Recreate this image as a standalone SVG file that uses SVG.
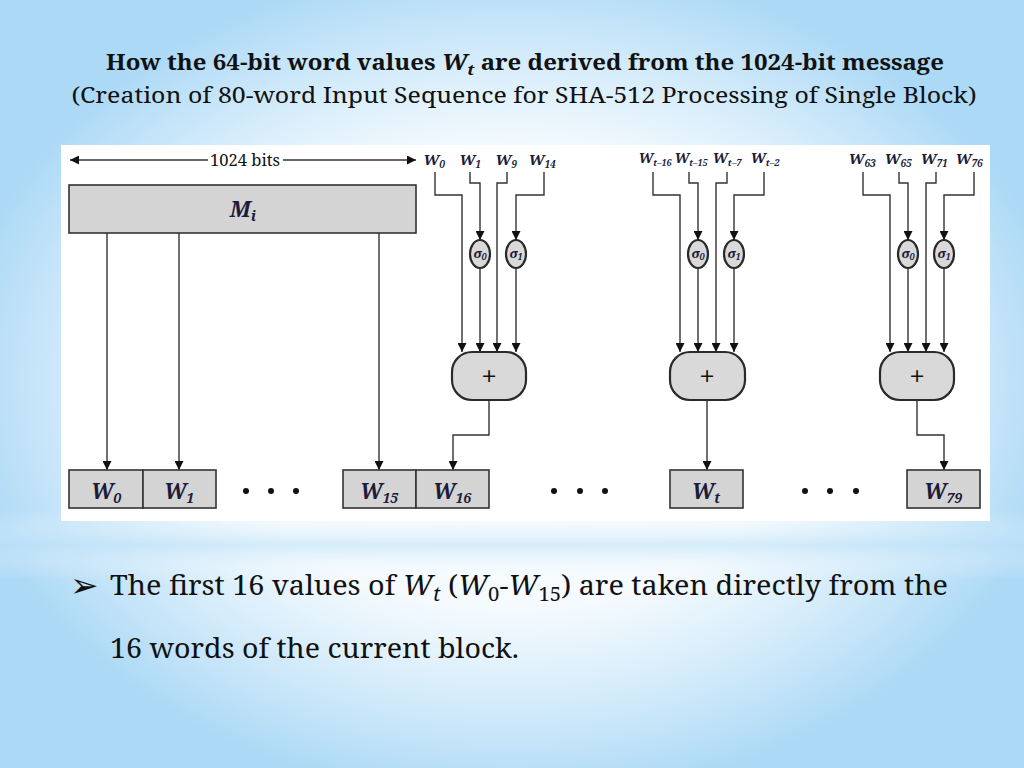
<svg xmlns="http://www.w3.org/2000/svg" width="1024" height="768" viewBox="0 0 1024 768">
<defs>
<radialGradient id="glow" cx="512" cy="380" r="560" gradientUnits="userSpaceOnUse" gradientTransform="translate(512 380) scale(1 0.75) translate(-512 -380)">
<stop offset="0" stop-color="#ffffff"/>
<stop offset="0.55" stop-color="#f4fafe"/>
<stop offset="1" stop-color="#ffffff" stop-opacity="0"/>
</radialGradient>
<linearGradient id="band" x1="0" y1="0" x2="0" y2="1">
<stop offset="0" stop-color="#ffffff" stop-opacity="0"/>
<stop offset="0.5" stop-color="#bfe2f8" stop-opacity="0.6"/>
<stop offset="1" stop-color="#ffffff" stop-opacity="0"/>
</linearGradient>
<marker id="ah" viewBox="0 0 10 10" refX="10" refY="5" markerUnits="userSpaceOnUse" markerWidth="12" markerHeight="9" orient="auto-start-reverse">
<path d="M0,0 L10,5 L0,10 z" fill="#111"/>
</marker>
<style>
text{font-family:'Noto Serif',serif;}
.ttl{fill:#111;}
.lab{font-weight:bold;font-style:italic;fill:#1c1c3a;}
.box{fill:#d4d4d4;stroke:#333;stroke-width:1.6;}
.op{fill:#d9d9d9;stroke:#2a2a2a;stroke-width:2.2;}
.arr{fill:none;stroke:#333;stroke-width:1.4;marker-end:url(#ah);}
.dot{fill:#111;}
</style>
</defs>
<rect x="0" y="0" width="1024" height="768" fill="#acd9f6"/>
<rect x="0" y="0" width="1024" height="768" fill="url(#glow)"/>
<rect x="0" y="510" width="1024" height="70" fill="url(#band)"/>

<g id="title">
<text class="ttl" x="525" y="70" font-size="21" font-weight="bold" text-anchor="middle" textLength="838" lengthAdjust="spacingAndGlyphs">How the 64-bit word values <tspan font-style="italic">W</tspan><tspan font-style="italic" font-size="15" dy="5">t</tspan><tspan dy="-5"> are derived from the 1024-bit message</tspan></text>
<text class="ttl" x="524" y="103" font-size="21" text-anchor="middle" textLength="905" lengthAdjust="spacingAndGlyphs">(Creation of 80-word Input Sequence for SHA-512 Processing of Single Block)</text>
</g>

<rect id="panel" x="61" y="145" width="929" height="376" fill="#ffffff"/>

<g id="bits-label">
<text class="ttl" x="245" y="166" font-size="16" text-anchor="middle" fill="#222" textLength="70" lengthAdjust="spacingAndGlyphs">1024 bits</text>
</g>

<g id="Mi">
<rect class="box" x="69" y="185" width="347" height="48"/>
<text class="lab" x="243" y="217" font-size="22" text-anchor="middle">M<tspan font-size="15" dy="4">i</tspan></text>
</g>

<g id="connectors">
<line class="arr" x1="208" y1="160" x2="70" y2="160"/>
<line class="arr" x1="283" y1="160" x2="416" y2="160"/>
<line class="arr" x1="107" y1="233" x2="107" y2="470"/>
<line class="arr" x1="179" y1="233" x2="179" y2="470"/>
<line class="arr" x1="379" y1="233" x2="379" y2="470"/>
<path class="arr" d="M435,172 V195 H462 V352"/>
<path class="arr" d="M470,172 V183 H480 V240"/>
<path class="arr" d="M507,172 V183 H497 V352"/>
<path class="arr" d="M544,172 V195 H516 V240"/>
<path class="arr" d="M480,268 V352"/>
<path class="arr" d="M516,268 V352"/>
<path class="arr" d="M489,400 V435 H453 V470"/>
<path class="arr" d="M653,172 V195 H680 V352"/>
<path class="arr" d="M689,172 V183 H698 V240"/>
<path class="arr" d="M727,172 V183 H716 V352"/>
<path class="arr" d="M764,172 V195 H734 V240"/>
<path class="arr" d="M698,268 V352"/>
<path class="arr" d="M734,268 V352"/>
<path class="arr" d="M707,400 V470"/>
<path class="arr" d="M863,172 V195 H890 V352"/>
<path class="arr" d="M899,172 V183 H908 V240"/>
<path class="arr" d="M936,172 V183 H926 V352"/>
<path class="arr" d="M974,172 V195 H944 V240"/>
<path class="arr" d="M908,268 V352"/>
<path class="arr" d="M944,268 V352"/>
<path class="arr" d="M917,400 V435 H944 V470"/>
</g>

<g id="inputs1">
<text class="lab" x="434" y="165" font-size="15" text-anchor="middle">W<tspan font-size="10" dy="3">0</tspan></text>
<text class="lab" x="470" y="165" font-size="15" text-anchor="middle">W<tspan font-size="10" dy="3">1</tspan></text>
<text class="lab" x="506" y="165" font-size="15" text-anchor="middle">W<tspan font-size="10" dy="3">9</tspan></text>
<text class="lab" x="542" y="165" font-size="15" text-anchor="middle">W<tspan font-size="10" dy="3">14</tspan></text>
</g>
<g id="inputs2">
<text class="lab" x="655" y="163" font-size="14" text-anchor="middle" textLength="33" lengthAdjust="spacingAndGlyphs">W<tspan font-size="9" dy="3">t–16</tspan></text>
<text class="lab" x="691" y="163" font-size="14" text-anchor="middle" textLength="33" lengthAdjust="spacingAndGlyphs">W<tspan font-size="9" dy="3">t–15</tspan></text>
<text class="lab" x="727" y="163" font-size="14" text-anchor="middle" textLength="29" lengthAdjust="spacingAndGlyphs">W<tspan font-size="9" dy="3">t–7</tspan></text>
<text class="lab" x="765" y="163" font-size="14" text-anchor="middle" textLength="29" lengthAdjust="spacingAndGlyphs">W<tspan font-size="9" dy="3">t–2</tspan></text>
</g>
<g id="inputs3">
<text class="lab" x="862" y="164" font-size="15" text-anchor="middle">W<tspan font-size="10" dy="3">63</tspan></text>
<text class="lab" x="898" y="164" font-size="15" text-anchor="middle">W<tspan font-size="10" dy="3">65</tspan></text>
<text class="lab" x="934" y="164" font-size="15" text-anchor="middle">W<tspan font-size="10" dy="3">71</tspan></text>
<text class="lab" x="969" y="164" font-size="15" text-anchor="middle">W<tspan font-size="10" dy="3">76</tspan></text>
</g>

<g id="sigma0-1"><ellipse class="op" cx="480" cy="254" rx="10" ry="14"/><text class="lab" x="480" y="258" font-size="13" font-weight="normal" text-anchor="middle">σ<tspan font-size="9" dy="2">0</tspan></text></g>
<g id="sigma1-1"><ellipse class="op" cx="516" cy="254" rx="10" ry="14"/><text class="lab" x="516" y="258" font-size="13" font-weight="normal" text-anchor="middle">σ<tspan font-size="9" dy="2">1</tspan></text></g>
<g id="sigma0-2"><ellipse class="op" cx="698" cy="254" rx="10" ry="14"/><text class="lab" x="698" y="258" font-size="13" font-weight="normal" text-anchor="middle">σ<tspan font-size="9" dy="2">0</tspan></text></g>
<g id="sigma1-2"><ellipse class="op" cx="734" cy="254" rx="10" ry="14"/><text class="lab" x="734" y="258" font-size="13" font-weight="normal" text-anchor="middle">σ<tspan font-size="9" dy="2">1</tspan></text></g>
<g id="sigma0-3"><ellipse class="op" cx="908" cy="254" rx="10" ry="14"/><text class="lab" x="908" y="258" font-size="13" font-weight="normal" text-anchor="middle">σ<tspan font-size="9" dy="2">0</tspan></text></g>
<g id="sigma1-3"><ellipse class="op" cx="944" cy="254" rx="10" ry="14"/><text class="lab" x="944" y="258" font-size="13" font-weight="normal" text-anchor="middle">σ<tspan font-size="9" dy="2">1</tspan></text></g>

<g id="add1"><rect class="op" x="452" y="352" width="74" height="48" rx="20"/><text class="ttl" x="489" y="386" font-size="28" text-anchor="middle" fill="#222">+</text></g>
<g id="add2"><rect class="op" x="670" y="352" width="75" height="48" rx="20"/><text class="ttl" x="707" y="386" font-size="28" text-anchor="middle" fill="#222">+</text></g>
<g id="add3"><rect class="op" x="880" y="352" width="74" height="48" rx="20"/><text class="ttl" x="917" y="386" font-size="28" text-anchor="middle" fill="#222">+</text></g>

<g id="W0"><rect class="box" x="69" y="470" width="74" height="38"/><text class="lab" x="106" y="499" font-size="21" text-anchor="middle">W<tspan font-size="14" dy="4">0</tspan></text></g>
<g id="W1"><rect class="box" x="143" y="470" width="73" height="38"/><text class="lab" x="179" y="499" font-size="21" text-anchor="middle">W<tspan font-size="14" dy="4">1</tspan></text></g>
<g id="W15"><rect class="box" x="343" y="470" width="73" height="38"/><text class="lab" x="379" y="499" font-size="21" text-anchor="middle">W<tspan font-size="14" dy="4">15</tspan></text></g>
<g id="W16"><rect class="box" x="416" y="470" width="73" height="38"/><text class="lab" x="452" y="499" font-size="21" text-anchor="middle">W<tspan font-size="14" dy="4">16</tspan></text></g>
<g id="Wt"><rect class="box" x="670" y="470" width="73" height="38"/><text class="lab" x="706" y="499" font-size="21" text-anchor="middle">W<tspan font-size="14" dy="4">t</tspan></text></g>
<g id="W79"><rect class="box" x="907" y="470" width="73" height="38"/><text class="lab" x="943" y="499" font-size="21" text-anchor="middle">W<tspan font-size="14" dy="4">79</tspan></text></g>

<g id="ellipses">
<circle class="dot" cx="246" cy="491" r="3"/><circle class="dot" cx="271" cy="491" r="3"/><circle class="dot" cx="296" cy="491" r="3"/>
<circle class="dot" cx="554" cy="491" r="3"/><circle class="dot" cx="580" cy="491" r="3"/><circle class="dot" cx="605" cy="491" r="3"/>
<circle class="dot" cx="805" cy="491" r="3"/><circle class="dot" cx="830" cy="491" r="3"/><circle class="dot" cx="856" cy="491" r="3"/>
</g>

<g id="bullet">
<text x="70" y="597" font-size="34" fill="#111" style="font-family:'DejaVu Sans',sans-serif">➢</text>
<text class="ttl" x="110" y="595" font-size="27" textLength="838" lengthAdjust="spacingAndGlyphs">The first 16 values of <tspan font-style="italic">W</tspan><tspan font-style="italic" font-size="19" dy="6">t</tspan><tspan dy="-6"> (</tspan><tspan font-style="italic">W</tspan><tspan font-size="19" dy="6">0</tspan><tspan dy="-6">-</tspan><tspan font-style="italic">W</tspan><tspan font-size="19" dy="6">15</tspan><tspan dy="-6">) are taken directly from the</tspan></text>
<text class="ttl" x="110" y="658" font-size="27" textLength="409" lengthAdjust="spacingAndGlyphs">16 words of the current block.</text>
</g>
</svg>
